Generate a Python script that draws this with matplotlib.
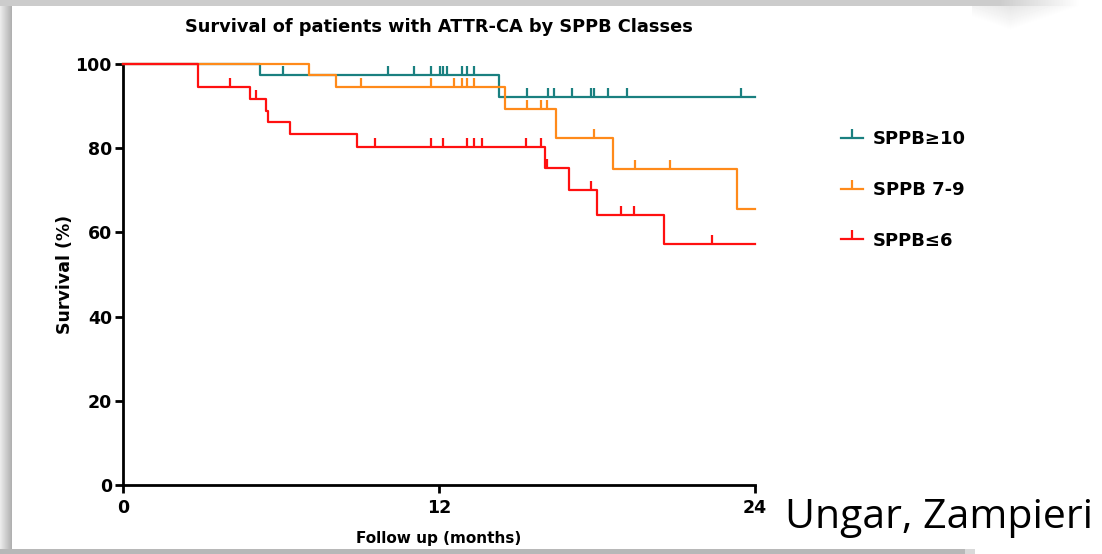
import numpy as np
import matplotlib
matplotlib.use("Agg")
import matplotlib.pyplot as plt
from matplotlib.lines import Line2D
from matplotlib.path import Path

plt.rcParams['font.family'] = ['DejaVu Sans']

# Kaplan-Meier steps (months, survival %)
teal_t = [0, 5.2, 14.28, 24]
teal_s = [100, 97.4, 92.2, 92.2]
teal_cens = [6.07, 10.06, 11.04, 11.71, 12.05, 12.16, 12.32, 12.89, 13.08, 13.34,
             15.33, 16.14, 16.36, 17.04, 17.77, 17.9, 18.4, 19.13, 23.45]

orange_t = [0, 7.06, 8.07, 14.51, 16.44, 18.61, 23.32, 24]
orange_s = [100, 97.3, 94.6, 89.4, 82.5, 75.1, 65.6, 65.6]
orange_cens = [9.05, 11.71, 12.57, 12.89, 13.08, 13.34, 15.33, 15.86, 16.1,
               17.9, 19.46, 20.79]

red_t = [0, 2.84, 4.82, 5.42, 5.49, 6.36, 8.89, 16.03, 16.93, 18.01, 20.56, 24]
red_s = [100, 94.6, 91.8, 88.9, 86.2, 83.3, 80.4, 75.4, 70.0, 64.2, 57.2, 57.2]
red_cens = [4.06, 5.05, 9.58, 11.69, 12.15, 13.06, 13.34, 13.63, 15.3, 15.89,
            16.09, 17.76, 18.9, 19.42, 22.38]

labels = ["SPPB\u226510", "SPPB 7-9", "SPPB\u22646"]
colors = ["#1a8080", "#ff8a1a", "#ff1010"]

x_ticks = [0, 12, 24]
y_ticks = [0, 20, 40, 60, 80, 100]

# upward tick used for censored patients
tick = Path([(0, 0), (0, 1)], [Path.MOVETO, Path.LINETO])

W, H = 1102, 554
fig = plt.figure(figsize=(W / 100, H / 100), dpi=100)

# background: white slide panel with a soft grey shadow on the edges
bg = np.ones((H, W))
yy, xx = np.mgrid[0:H, 0:W]
left = xx < 12
bg[left] = 0.92 - 0.25 * xx[left] / 12
top = yy < 6
bg[top & (xx < 1000)] = 0.8
fade = top & (xx >= 1000)
bg[fade] = np.minimum(1, 0.8 + 0.2 * (xx[fade] - 1000) / 80)
corner = (yy >= 6) & (yy < 30) & (xx >= 972) & (xx < 1080)
bg[corner] = np.minimum(1, 0.9 + 0.1 * (yy[corner] - 6) / 24
                        + 0.1 * np.abs(xx[corner] - 1010) / 70)
bottom = (yy >= 549) & (xx < 975)
bg[bottom] = 0.72
bg[(yy >= 549) & (xx >= 965) & (xx < 975)] = 0.85
bga = fig.add_axes([0, 0, 1, 1], zorder=-1)
bga.imshow(bg, cmap="gray", vmin=0, vmax=1, aspect="auto", interpolation="bilinear")
bga.axis("off")

ax = fig.add_axes([123 / W, 1 - 485 / H, (755 - 123) / W, (485 - 64) / H])
ax.patch.set_alpha(0)

groups = [(teal_t, teal_s, teal_cens), (orange_t, orange_s, orange_cens),
          (red_t, red_s, red_cens)]
for k, (t, s, cens) in enumerate(groups):
    ax.step(t, s, where="post", color=colors[k], lw=1.6, zorder=3 + k,
            clip_on=False)
    idx = np.searchsorted(t, cens, side="right") - 1
    cy = np.array(s)[idx]
    ax.plot(cens, cy, ls="none", marker=tick, ms=13, mew=1.6,
            color=colors[k], zorder=3 + k, clip_on=False)

ax.set_xlim(0, 24)
ax.set_ylim(0, 100)
ax.set_xticks(x_ticks)
ax.set_yticks(y_ticks)
for sp in ["top", "right"]:
    ax.spines[sp].set_visible(False)
for sp in ["left", "bottom"]:
    ax.spines[sp].set_linewidth(2)
ax.tick_params(width=2, length=6, labelsize=12.5)
ax.tick_params(axis="y", pad=2)
ax.tick_params(axis="x", pad=4)
for lab in ax.get_xticklabels() + ax.get_yticklabels():
    lab.set_fontweight("bold")

ax.set_xlabel("Follow up (months)", fontsize=11, fontweight="bold", labelpad=10)
ax.set_ylabel("Survival (%)", fontsize=12.5, fontweight="bold", labelpad=1)

fig.text(439 / W, 1 - 27 / H, "Survival of patients with ATTR-CA by SPPB Classes",
         ha="center", va="center", fontsize=12.8, fontweight="bold")

handles = [Line2D([], [], color=c, lw=1.6, marker=tick, ms=13, mew=1.6)
           for c in colors]
fig.legend(handles, labels, loc="center left",
           bbox_to_anchor=(825 / W, 1 - 190 / H), frameon=False,
           prop={"weight": "bold", "size": 13}, handlelength=1.2,
           handletextpad=0.55, labelspacing=1.8)

fig.text(785 / W, 1 - 518 / H, "Ungar, Zampieri", ha="left", va="center",
         fontsize=29.5, family="Open Sans")

fig.savefig("out.png", dpi=100)
